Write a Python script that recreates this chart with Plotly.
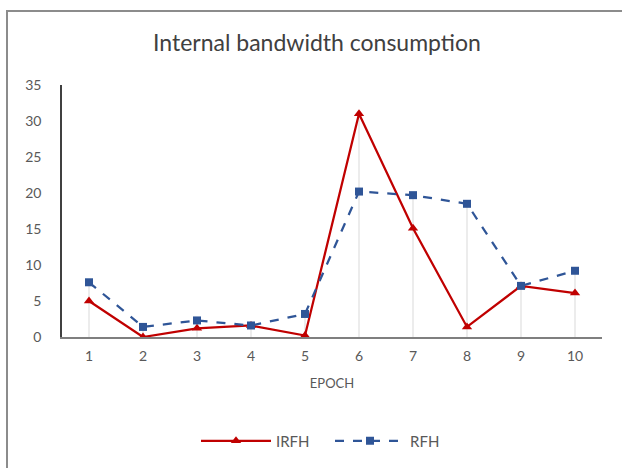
import plotly.graph_objects as go

epochs = [1, 2, 3, 4, 5, 6, 7, 8, 9, 10]
irfh = [5.0, 0.0, 1.2, 1.6, 0.2, 31.0, 15.1, 1.4, 7.1, 6.1]
rfh = [7.6, 1.4, 2.3, 1.6, 3.2, 20.2, 19.7, 18.5, 7.1, 9.2]
y_ticks = [0, 5, 10, 15, 20, 25, 30, 35]

# drop lines from each category's highest point down to the axis
drop_x, drop_y = [], []
for e, a, b in zip(epochs, irfh, rfh):
    drop_x += [e, e, None]
    drop_y += [0, max(a, b), None]

fig = go.Figure()
fig.add_trace(go.Scatter(x=drop_x, y=drop_y, mode="lines",
                         line=dict(color="#d9d9d9", width=1),
                         showlegend=False, hoverinfo="skip"))
fig.add_trace(go.Scatter(x=epochs, y=irfh, name="IRFH", mode="lines+markers",
                         line=dict(color="#C00000", width=2.25),
                         marker=dict(symbol="triangle-up", size=9, color="#C00000")))
fig.add_trace(go.Scatter(x=epochs, y=rfh, name="RFH", mode="lines+markers",
                         line=dict(color="#2F5597", width=2.25, dash="dash"),
                         marker=dict(symbol="square", size=8, color="#2F5597")))

L, R, T, B = 62, 20, 85, 131
W, H = 622, 468
pw, ph = W - L - R, H - T - B

def px_x(x):
    return (x - L) / pw

def px_y(y):
    return (H - B - y) / ph

fig.add_shape(type="rect", xref="paper", yref="paper",
              x0=px_x(7), x1=px_x(660), y0=px_y(11), y1=px_y(500),
              line=dict(color="#8c8c8c", width=2), fillcolor="rgba(0,0,0,0)", layer="below")

fig.update_layout(
    width=W, height=H,
    margin=dict(l=L, r=R, t=T, b=B, autoexpand=False),
    paper_bgcolor="white", plot_bgcolor="white",
    font=dict(family="Lato, Noto Sans, sans-serif", color="#595959"),
    title=dict(text="Internal bandwidth consumption", x=px_x(317), xref="paper",
               xanchor="center", y=1 - 43 / H, yanchor="middle",
               font=dict(size=23, color="#404040")),
    xaxis=dict(range=[0.5, 10.5], tickvals=epochs, ticktext=[str(e) for e in epochs],
               showgrid=False, zeroline=False, showline=True, linecolor="#7f7f7f",
               linewidth=1.5, ticks="", tickfont=dict(size=14, color="#595959"),
               ticklabelstandoff=5,
               title=dict(text="EPOCH", font=dict(size=13, color="#595959"), standoff=16)),
    yaxis=dict(range=[0, 35], tickvals=y_ticks, showgrid=False, zeroline=False,
               showline=True, linecolor="#404040", linewidth=1.5, ticks="",
               tickfont=dict(size=14, color="#595959"), ticklabelstandoff=16),
    legend=dict(orientation="h", x=px_x(196), xanchor="left", y=px_y(441), yanchor="middle",
                font=dict(size=15, color="#595959"), itemwidth=70,
                entrywidth=49, entrywidthmode="pixels",
                tracegroupgap=0, bgcolor="rgba(0,0,0,0)"),
    showlegend=True,
)

fig.write_html("out.html")
